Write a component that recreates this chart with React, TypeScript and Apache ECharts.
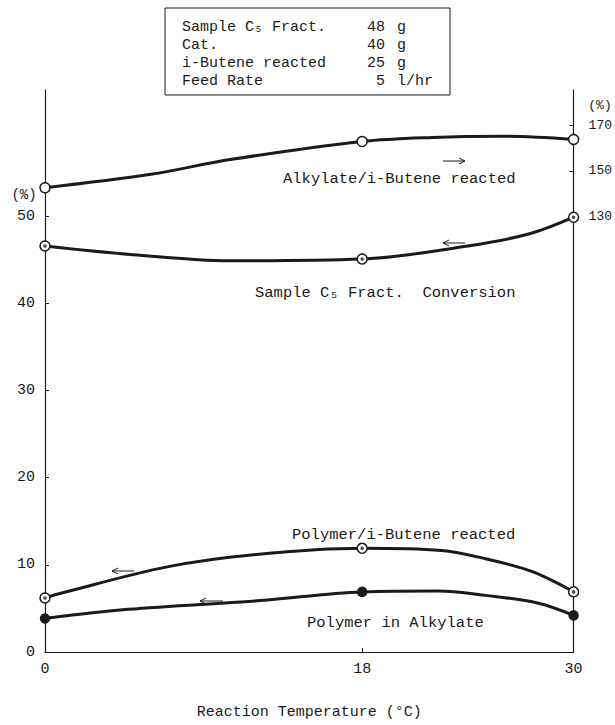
import React, { useEffect, useRef } from "react";
import * as echarts from "echarts";

// ---- data ----
const tempTicks = [0, 18, 30];
const leftTicks = [0, 10, 20, 30, 40, 50];
const rightTicks = [130, 150, 170];
const measuredTemps = [0, 18, 30];

// Alkylate / i-Butene reacted (right axis, %)
const alkylateMeasured = [142.6, 163.0, 163.9];
const alkylateCurveX = [0, 6, 10.5, 18, 22, 26, 30];
const alkylateCurveY = [142.6, 148.5, 155.0, 163.0, 164.8, 165.3, 163.9];

// Sample C5 Fract. Conversion (left axis, %)
const conversionMeasured = [46.6, 45.1, 49.9];
const conversionCurveX = [0, 5, 10.5, 18, 24, 27.5, 30];
const conversionCurveY = [46.6, 45.6, 44.9, 45.1, 46.6, 48.0, 49.9];

// Polymer / i-Butene reacted (left axis, %)
const polyButeneMeasured = [6.2, 11.9, 6.9];
const polyButeneCurveX = [0, 1, 7, 12, 18, 22.5, 25, 27.7, 30];
const polyButeneCurveY = [6.2, 6.8, 9.8, 11.2, 11.9, 11.65, 10.7, 9.2, 6.9];

// Polymer in Alkylate (left axis, %)
const polyAlkylateMeasured = [3.85, 6.9, 4.2];
const polyAlkylateCurveX = [0, 4.7, 12.2, 18, 22.3, 25, 28, 30];
const polyAlkylateCurveY = [3.85, 4.9, 5.9, 6.9, 7.0, 6.5, 5.6, 4.2];

// conditions box
const boxLabels = ["Sample C\u2085 Fract.", "Cat.", "i-Butene reacted", "Feed Rate"];
const boxValues = ["48", "40", "25", "5"];
const boxUnits = ["g", "g", "g", "l/hr"];

const FONT = "'Liberation Mono', 'DejaVu Sans Mono', monospace";
const INK = "#1a1a1a";

function pairs(xs: number[], ys: number[]) {
  return xs.map((x, i) => [x, ys[i]]);
}

function arrow(x1: number, x2: number, y: number, dir: "left" | "right") {
  const tip = dir === "right" ? x2 : x1;
  const back = dir === "right" ? tip - 6 : tip + 6;
  return {
    type: "group",
    children: [
      { type: "line", shape: { x1, y1: y, x2, y2: y }, style: { stroke: INK, lineWidth: 1 } },
      {
        type: "polyline",
        shape: { points: [[back, y - 3], [tip, y], [back, y + 3]] },
        style: { stroke: INK, lineWidth: 1, fill: null },
      },
    ],
  };
}

function label(text: string, x: number, y: number, size = 15.5, align = "left") {
  return {
    type: "text",
    x,
    y,
    style: {
      text,
      font: `${size}px ${FONT}`,
      fill: INK,
      textAlign: align,
      textVerticalAlign: "middle",
    },
  };
}

export default function App() {
  const ref = useRef<HTMLDivElement>(null);

  useEffect(() => {
    if (!ref.current) return;
    const chart = echarts.init(ref.current, null, { renderer: "svg" });

    const lineSeries = (name: string, xs: number[], ys: number[], yAxisIndex: number) => ({
      name,
      type: "line",
      yAxisIndex,
      data: pairs(xs, ys),
      smooth: 0.35,
      showSymbol: false,
      lineStyle: { color: INK, width: 3 },
      z: 2,
      silent: true,
    });

    const markerSeries = (
      name: string,
      ys: number[],
      yAxisIndex: number,
      fill: string,
      size = 10
    ) => ({
      name,
      type: "scatter",
      yAxisIndex,
      data: pairs(measuredTemps, ys),
      symbol: "circle",
      symbolSize: size,
      itemStyle: { color: fill, borderColor: INK, borderWidth: 1.5, opacity: 1 },
      z: 5,
      silent: true,
    });

    const dotSeries = (name: string, ys: number[], yAxisIndex: number) => ({
      name,
      type: "scatter",
      yAxisIndex,
      data: pairs(measuredTemps, ys),
      symbol: "circle",
      symbolSize: 3.5,
      itemStyle: { color: INK },
      z: 6,
      silent: true,
    });

    const graphics: any[] = [];
    // conditions box
    graphics.push({
      type: "rect",
      shape: { x: 165, y: 8, width: 285, height: 87 },
      style: { fill: "#fff", stroke: INK, lineWidth: 1 },
    });
    boxLabels.forEach((t, i) => {
      const y = 27 + i * 18;
      graphics.push(label(t, 182, y, 15));
      graphics.push(label(boxValues[i], 385, y, 15, "right"));
      graphics.push(label(boxUnits[i], 397, y, 15));
    });
    // axis unit labels
    graphics.push(label("(%)", 24, 195, 14, "center"));
    graphics.push(label("(%)", 600, 105, 13, "center"));
    // series labels
    graphics.push(label("Alkylate/i-Butene reacted", 283, 179));
    graphics.push(label("Sample C\u2085 Fract.  Conversion", 255, 293));
    graphics.push(label("Polymer/i-Butene reacted", 292, 535));
    graphics.push(label("Polymer in Alkylate", 307, 623));
    // direction arrows
    graphics.push(arrow(443, 465, 161, "right"));
    graphics.push(arrow(443, 465, 243, "left"));
    graphics.push(arrow(112, 134, 571, "left"));
    graphics.push(arrow(200, 223, 601, "left"));

    chart.setOption({
      animation: false,
      backgroundColor: "#fff",
      grid: { left: 45, right: 39, top: 90, bottom: 65, containLabel: false },
      xAxis: {
        type: "value",
        min: 0,
        max: 30,
        name: "Reaction Temperature (\u00b0C)",
        nameLocation: "middle",
        nameGap: 53,
        nameTextStyle: { fontFamily: FONT, fontSize: 15, color: INK },
        axisLine: { show: true, lineStyle: { color: INK, width: 1.2 } },
        axisTick: { show: true, inside: true, length: 4, customValues: tempTicks, lineStyle: { color: INK } },
        axisLabel: { customValues: tempTicks, margin: 10, fontFamily: FONT, fontSize: 15, color: INK },
        splitLine: { show: false },
      },
      yAxis: [
        {
          type: "value",
          position: "left",
          min: 0,
          max: 64.5,
          axisLine: { show: true, lineStyle: { color: INK, width: 1.2 } },
          axisTick: { show: true, inside: true, length: 4, customValues: leftTicks, lineStyle: { color: INK } },
          axisLabel: { customValues: leftTicks, margin: 10, fontFamily: FONT, fontSize: 15, color: INK },
          splitLine: { show: false },
        },
        {
          type: "value",
          position: "right",
          min: -62.2,
          max: 185.7,
          axisLine: { show: true, lineStyle: { color: INK, width: 1.2 } },
          axisTick: { show: true, inside: true, length: 4, customValues: rightTicks, lineStyle: { color: INK } },
          axisLabel: { customValues: rightTicks, margin: 15, fontFamily: FONT, fontSize: 13, color: INK },
          splitLine: { show: false },
        },
      ],
      series: [
        lineSeries("Alkylate/i-Butene reacted", alkylateCurveX, alkylateCurveY, 1),
        markerSeries("Alkylate/i-Butene reacted (measured)", alkylateMeasured, 1, "#fff"),
        lineSeries("Sample C5 Fract. Conversion", conversionCurveX, conversionCurveY, 0),
        markerSeries("Sample C5 Fract. Conversion (measured)", conversionMeasured, 0, "#fff"),
        dotSeries("Sample C5 Fract. Conversion (dot)", conversionMeasured, 0),
        lineSeries("Polymer/i-Butene reacted", polyButeneCurveX, polyButeneCurveY, 0),
        markerSeries("Polymer/i-Butene reacted (measured)", polyButeneMeasured, 0, "#fff"),
        dotSeries("Polymer/i-Butene reacted (dot)", polyButeneMeasured, 0),
        lineSeries("Polymer in Alkylate", polyAlkylateCurveX, polyAlkylateCurveY, 0),
        markerSeries("Polymer in Alkylate (measured)", polyAlkylateMeasured, 0, INK, 9),
      ],
      graphic: graphics,
    });

    return () => chart.dispose();
  }, []);

  return <div ref={ref} style={{ width: 615, height: 725, position: "absolute", left: 0, top: 0 }} />;
}
